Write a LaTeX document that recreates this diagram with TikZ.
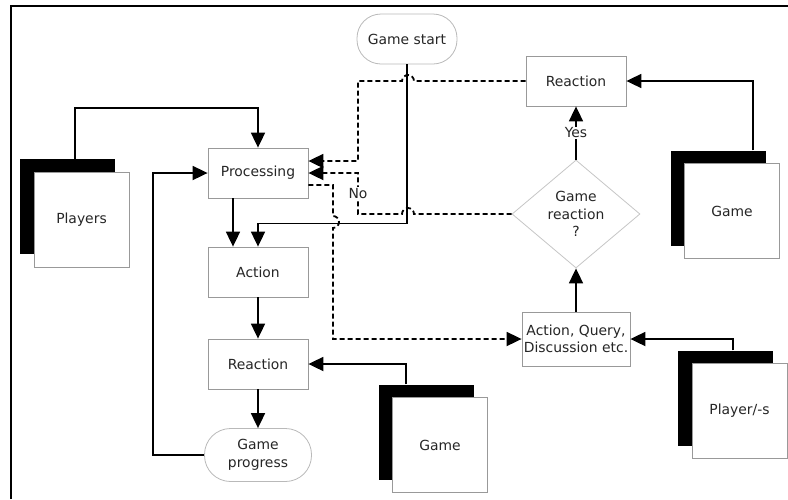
\documentclass[tikz,border=0pt]{standalone}
\usepackage{fontspec}
\setmainfont{DejaVu Sans}
\usetikzlibrary{arrows.meta,shapes.geometric,calc}

\tikzset{
  box/.style={draw=gray!80,line width=0.8pt,fill=white,text=black!85,minimum width=100pt,minimum height=50pt,inner sep=2pt,align=center},
  term/.style={box,draw=gray!55,rounded corners=24pt},
  decide/.style={diamond,draw=gray!45,line width=0.8pt,fill=white,text=black!85,aspect=1.2,minimum width=128pt,minimum height=108pt,inner sep=0pt,align=center},
  docback/.style={fill=black,minimum size=95pt,inner sep=0pt},
  docfront/.style={box,minimum size=95pt},
  conn/.style={line width=1.8pt,-{Triangle[length=15pt,width=14pt]}},
  dashconn/.style={conn,dash pattern=on 5pt off 3pt},
  tag/.style={fill=white,inner sep=1pt,text=black!85}
}

\begin{document}
\begin{tikzpicture}[x=1pt,y=1pt,font=\fontsize{13.9}{17.5}\selectfont]
\useasboundingbox (0,0) rectangle (788,-499);
% frame
\draw[line width=2.5pt] (11,-499) -- (11,-6) -- (788,-6);

% main nodes
\node[term] (start) at (407,-39) {Game start};
\node[box] (react1) at (576,-81) {Reaction};
\node[box] (proc) at (258,-173) {Processing};
\node[box] (action) at (258,-272) {Action};
\node[box] (react2) at (258,-364) {Reaction};
\node[term,minimum width=107pt,minimum height=53pt,rounded corners=26pt] (prog) at (258,-455) {Game\\progress};
\node[decide] (dec) at (576,-214) {Game\\reaction\\?};
\node[box,minimum width=108pt,minimum height=54pt,inner sep=1pt] (aq) at (576,-339) {Action, Query,\\Discussion etc.};

% documents
\foreach \n/\x/\y/\t in {players/81.5/-219.5/Players,gametop/732/-211/Game,gamelow/440/-445/Game,plays/739.5/-411/{Player/-s}}
{
  \node[docback] (\n-bk) at (\x-14,\y+13) {};
  \node[docfront] (\n) at (\x,\y) {\t};
}

% solid connectors
\draw[conn] ($(players-bk.north west)+(55,0)$) -- ++(0,51) -| (proc.north);
\draw[conn] ($(proc.south)+(-25,0)$) -- ($(action.north)+(-25,0)$);
\draw[conn] (start.south) -- ++(0,-159) -| (action.north);
\draw[conn] (action) -- (react2);
\draw[conn] (react2) -- (prog);
\draw[conn] (prog.west) -- ++(-51,0) |- (proc.west);
\draw[conn] ($(gametop-bk.north west)+(83,0)$) |- (react1.east);
\draw[conn] ($(gamelow-bk.north west)+(28,0)$) |- (react2.east);
\draw[conn] ($(plays-bk.north west)+(55,0)$) |- (aq.east);
\draw[conn] (aq) -- (dec);
\draw[conn] (dec) -- node[tag]{Yes} (react1);

% dashed connectors with hops
\draw[dashconn] (react1.west) -- (414,-81) arc[start angle=0,end angle=180,radius=6] -- (358,-81) |- ($(proc.east)+(0,12)$);
\draw[dashconn] (dec.west) -- (414,-214) arc[start angle=0,end angle=180,radius=6] -- (358,-214) |- node[tag,pos=0.25]{No} (proc.east);
\draw[dashconn] ($(proc.east)+(0,-12)$) -- (333,-185) -- (333,-216) arc[start angle=90,end angle=-90,radius=6] |- (aq.west);
\end{tikzpicture}
\end{document}
